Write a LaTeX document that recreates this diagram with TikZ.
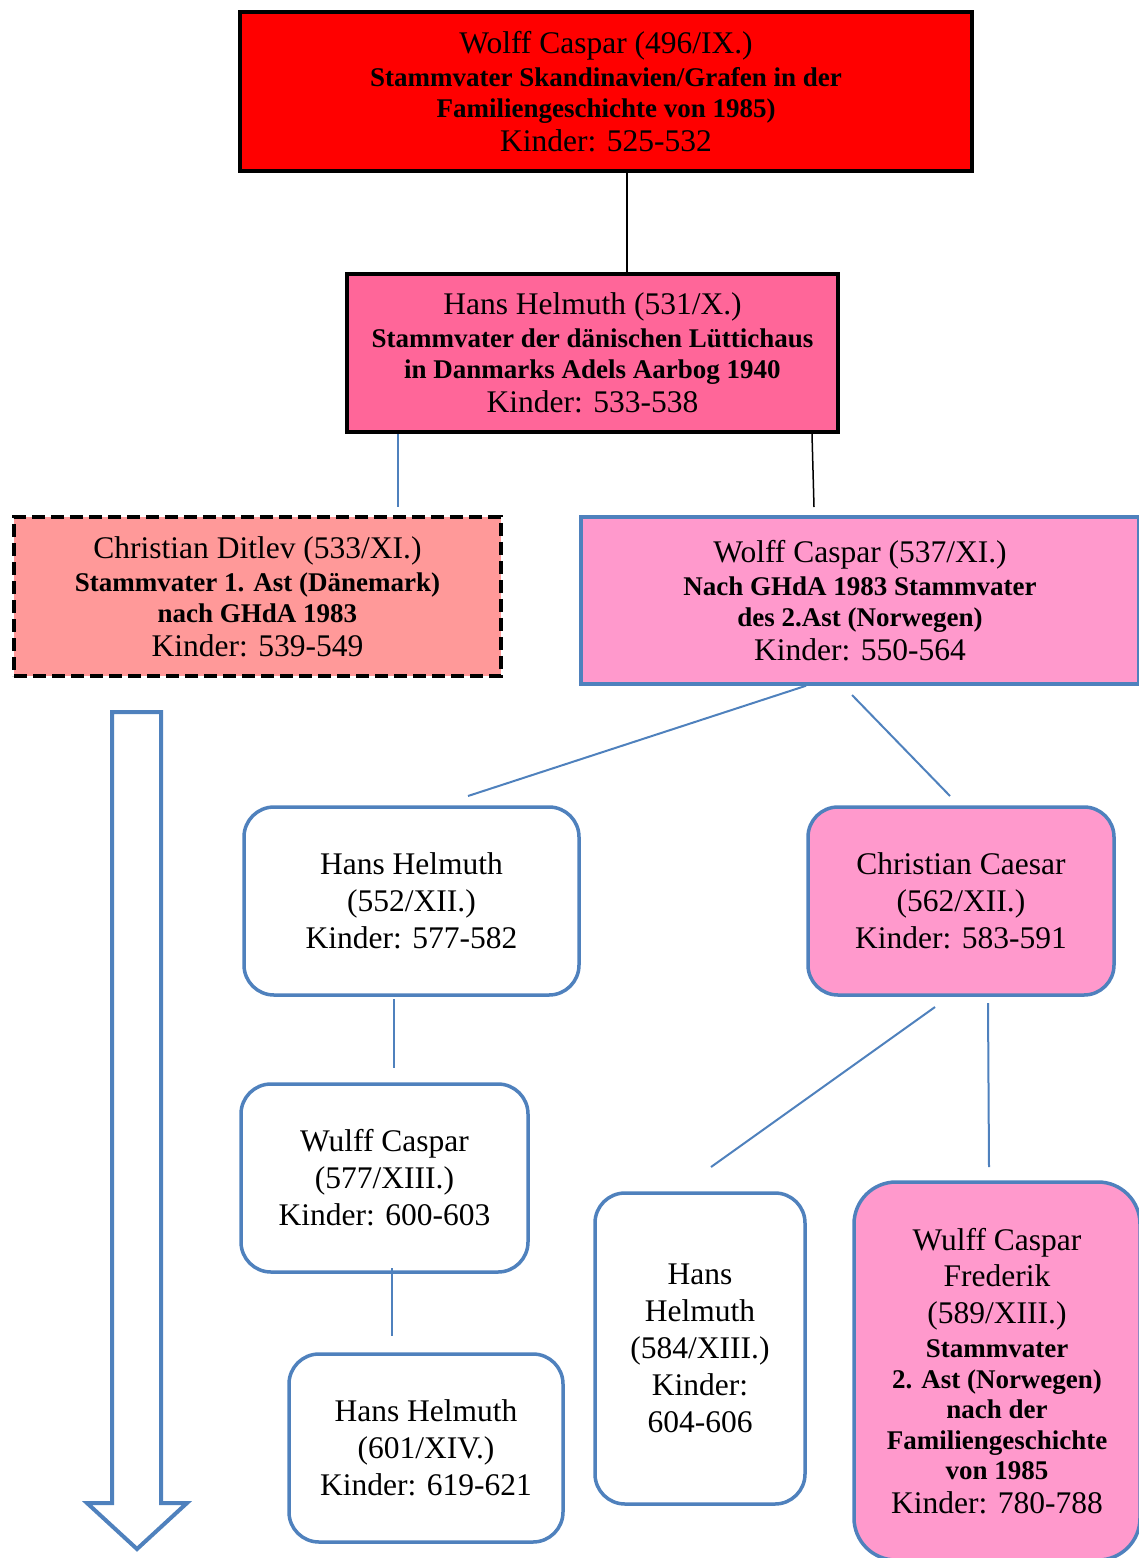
\documentclass[tikz,border=0pt]{standalone}
\usepackage{fontspec}
\setmainfont{Liberation Serif}
\definecolor{boxred}{HTML}{FF0000}
\definecolor{boxrose}{HTML}{FF6699}
\definecolor{boxsalmon}{HTML}{FF9999}
\definecolor{boxpink}{HTML}{FF99CC}
\definecolor{linkblue}{HTML}{4F81BD}
\newcommand\boldline[1]{{\fontsize{27}{31}\selectfont\bfseries #1}}
\begin{document}
\begin{tikzpicture}[x=1pt,y=-1pt,
  base/.style={align=center, inner sep=0pt, font=\fontsize{31.5}{31}\selectfont},
  headbox/.style={base, rectangle, draw=black, line width=4pt},
  bluebox/.style={base, rectangle, draw=linkblue, line width=3.5pt},
  roundbox/.style={bluebox, rounded corners=30pt, font=\fontsize{31.5}{37}\selectfont},
  bluelink/.style={draw=linkblue, line width=2pt},
  blacklink/.style={draw=black, line width=1.5pt}]
\useasboundingbox (0,0) rectangle (1139,1558);
\clip (0,0) rectangle (1139,1558);

% generations IX to XI
\node[headbox, fill=boxred, minimum width=732pt, minimum height=159pt] (A) at (606,91.5)
  {Wolff Caspar (496/IX.)\\[2pt]
   \boldline{Stammvater Skandinavien/Grafen in der}\\
   \boldline{Familiengeschichte von 1985)}\\[3pt]
   Kinder: 525-532};
\node[headbox, fill=boxrose, minimum width=491pt, minimum height=158pt] (B) at (592.5,353)
  {Hans Helmuth (531/X.)\\[2pt]
   \boldline{Stammvater der dänischen Lüttichaus}\\
   \boldline{in Danmarks Adels Aarbog 1940}\\[3pt]
   Kinder: 533-538};
\node[base, rectangle, fill=boxsalmon, draw=black, line width=4pt,
      dash pattern=on 13pt off 6pt, minimum width=487pt, minimum height=159pt] (C) at (257.5,596.5)
  {Christian Ditlev (533/XI.)\\[2pt]
   \boldline{Stammvater 1. Ast (Dänemark)}\\
   \boldline{nach GHdA 1983}\\[3pt]
   Kinder: 539-549};
\node[bluebox, fill=boxpink, minimum width=558pt, minimum height=167pt] (D) at (860,600.5)
  {Wolff Caspar (537/XI.)\\[2pt]
   \boldline{Nach GHdA 1983 Stammvater}\\
   \boldline{des 2.Ast (Norwegen)}\\[3pt]
   Kinder: 550-564};

% generation XII
\node[roundbox, fill=white, minimum width=335pt, minimum height=188pt] (E) at (411.5,901)
  {Hans Helmuth\\(552/XII.)\\Kinder: 577-582};
\node[roundbox, fill=boxpink, minimum width=306pt, minimum height=188pt] (F) at (961,901)
  {Christian Caesar\\(562/XII.)\\Kinder: 583-591};

% generations XIII and XIV
\node[roundbox, fill=white, minimum width=287pt, minimum height=188pt] (G) at (384.5,1178)
  {Wulff Caspar\\(577/XIII.)\\Kinder: 600-603};
\node[roundbox, fill=white, minimum width=274pt, minimum height=188pt] (H) at (426,1448)
  {Hans Helmuth\\(601/XIV.)\\Kinder: 619-621};
\node[roundbox, fill=white, minimum width=210pt, minimum height=311pt] (I) at (700,1348.5)
  {Hans\\Helmuth\\(584/XIII.)\\Kinder:\\604-606};
\node[roundbox, rounded corners=42pt, fill=boxpink, minimum width=286pt, minimum height=378pt,
      font=\fontsize{31.5}{30.5}\selectfont] (J) at (997,1371)
  {Wulff Caspar\\[6pt]
   Frederik\\[6pt]
   (589/XIII.)\\[4pt]
   \boldline{Stammvater}\\
   \boldline{2. Ast (Norwegen)}\\
   \boldline{nach der}\\
   \boldline{Familiengeschichte}\\
   \boldline{von 1985}\\[3pt]
   Kinder: 780-788};

% connector ends
\coordinate (xAB) at (627,0);
\coordinate (xBC) at (398,0);
\coordinate (cIn) at (398,507);
\coordinate (xBD) at (812,0);
\coordinate (dIn) at (814,507);
\coordinate (xDE) at (806,0);
\coordinate (eIn) at (468,796);
\coordinate (dOut) at (852,695);
\coordinate (fIn) at (950,796);
\coordinate (eOut) at (394,999);
\coordinate (gIn) at (394,1068);
\coordinate (gOut) at (392,1268);
\coordinate (hIn) at (392,1336);
\coordinate (fOutI) at (935,1007);
\coordinate (iIn) at (711,1167);
\coordinate (fOutJ) at (988,1003);
\coordinate (jIn) at (989,1167);

\draw[blacklink] (A.south -| xAB) -- (B.north -| xAB);
\draw[bluelink] (B.south -| xBC) -- (cIn);
\draw[blacklink] (B.south -| xBD) -- (dIn);
\draw[bluelink] (D.south -| xDE) -- (eIn);
\draw[bluelink] (dOut) -- (fIn);
\draw[bluelink] (eOut) -- (gIn);
\draw[bluelink] (gOut) -- (hIn);
\draw[bluelink] (fOutI) -- (iIn);
\draw[bluelink] (fOutJ) -- (jIn);

% downward block arrow below the first branch
\draw[draw=linkblue, fill=white, line width=4pt, line join=miter]
  (112,712) -- (161,712) -- (161,1503) -- (187,1503) -- (137,1549)
  -- (87,1503) -- (112,1503) -- cycle;
\end{tikzpicture}
\end{document}
